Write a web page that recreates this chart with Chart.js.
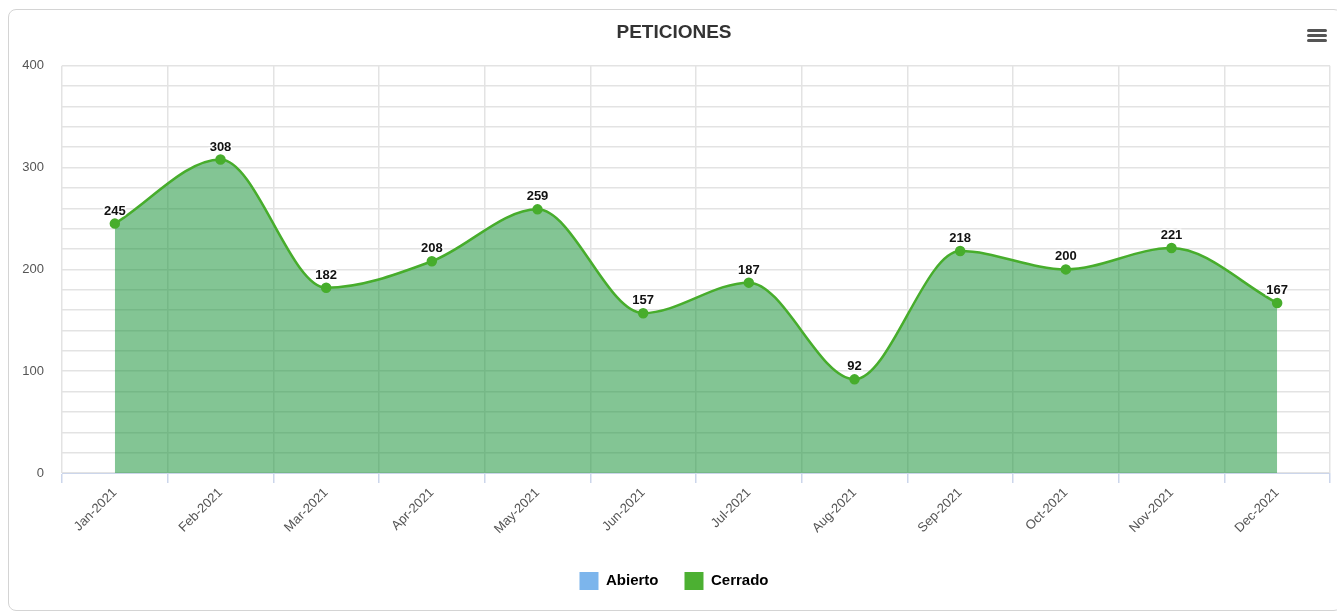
<!DOCTYPE html>
<html>
<head>
<meta charset="utf-8">
<script src="https://cdn.jsdelivr.net/npm/chart.js@4/dist/chart.umd.min.js"></script>
<style>
    body { margin: 0; background: #fff; font-family: 'Liberation Sans', Arial, sans-serif; }
    .frame {
        position: absolute; left: 8px; top: 9px; width: 1332px; height: 600px;
        border: 1px solid #d4d4d4; border-radius: 8px;
    }
    .menu { position: absolute; left: 1307px; top: 29px; width: 20px; }
    .menu span { display: block; height: 3px; background: #555; border-radius: 2px; margin-bottom: 2px; }
    #chartWrap { position: absolute; left: 0; top: 0; width: 1337px; height: 613px; }
</style>
</head>
<body>
<div class="frame"></div>
<div class="menu"><span></span><span></span><span></span></div>
<div id="chartWrap"><canvas id="peticionesChart"></canvas></div>
<script>
// datos del grafico
const meses = ['Jan-2021', 'Feb-2021', 'Mar-2021', 'Apr-2021', 'May-2021', 'Jun-2021',
               'Jul-2021', 'Aug-2021', 'Sep-2021', 'Oct-2021', 'Nov-2021', 'Dec-2021'];
const abierto = [];
const cerrado = [245, 308, 182, 208, 259, 157, 187, 92, 218, 200, 221, 167];
const yTicks = [0, 100, 200, 300, 400];

const verde = '#47ad2c';
const fuente = "'Liberation Sans', Arial, sans-serif";

// etiquetas de valor encima de cada punto
const valueLabels = {
    id: 'valueLabels',
    afterDatasetsDraw(chart) {
        const ctx = chart.ctx;
        const meta = chart.getDatasetMeta(1);
        ctx.save();
        ctx.font = 'bold 13px ' + fuente;
        ctx.textAlign = 'center';
        ctx.textBaseline = 'bottom';
        meta.data.forEach((pt, i) => {
            const txt = String(cerrado[i]);
            ctx.lineWidth = 3;
            ctx.strokeStyle = 'rgba(255,255,255,0.8)';
            ctx.strokeText(txt, pt.x, pt.y - 6);
            ctx.fillStyle = '#111';
            ctx.fillText(txt, pt.x, pt.y - 6);
        });
        ctx.restore();
    }
};

const ctx = document.getElementById('peticionesChart').getContext('2d');
new Chart(ctx, {
    type: 'line',
    data: {
        labels: meses,
        datasets: [{
            label: 'Abierto',
            data: abierto,
            borderColor: '#7cb5ec',
            backgroundColor: '#7cb5ec'
        }, {
            label: 'Cerrado',
            data: cerrado,
            borderColor: verde,
            backgroundColor: 'rgba(30, 150, 60, 0.55)',
            fill: 'origin',
            tension: 0.4,
            cubicInterpolationMode: 'monotone',
            borderWidth: 2.5,
            pointRadius: 4,
            pointBackgroundColor: verde,
            pointBorderColor: verde
        }]
    },
    options: {
        responsive: true,
        maintainAspectRatio: false,
        animation: false,
        layout: { padding: { left: 18, right: 7, top: 0, bottom: 13 } },
        plugins: {
            title: {
                display: true,
                text: 'PETICIONES',
                color: '#333',
                font: { family: fuente, size: 19, weight: 'bold' },
                padding: { top: 21, bottom: 22 }
            },
            legend: {
                position: 'bottom',
                labels: {
                    boxWidth: 19,
                    boxHeight: 18,
                    padding: 26,
                    color: '#333',
                    font: { family: fuente, size: 15, weight: 'bold' },
                    generateLabels: (chart) => chart.data.datasets.map((ds, i) => ({
                        text: ds.label,
                        fillStyle: i === 0 ? '#7cb5ec' : '#4cb032',
                        strokeStyle: i === 0 ? '#7cb5ec' : '#4cb032',
                        lineWidth: 0,
                        datasetIndex: i
                    }))
                }
            },
            tooltip: { enabled: false }
        },
        scales: {
            x: {
                offset: true,
                grid: { offset: true, color: '#e3e3e3', lineWidth: 1.5, tickColor: '#ccd6eb', tickLength: 10 },
                border: { color: '#ccd6eb' },
                ticks: {
                    color: '#555',
                    font: { family: fuente, size: 13 },
                    minRotation: 45,
                    maxRotation: 45,
                    padding: 2
                },
                afterFit: (scale) => { scale.height = 73; }
            },
            y: {
                min: 0,
                max: 400,
                grid: { color: '#e3e3e3', lineWidth: 1.5, drawTicks: false },
                border: { display: false },
                ticks: {
                    stepSize: 20,
                    padding: 18,
                    color: '#555',
                    font: { family: fuente, size: 13 },
                    callback: (v) => yTicks.includes(v) ? String(v) : ''
                },
                afterFit: (scale) => { scale.width = 44; }
            }
        }
    },
    plugins: [valueLabels]
});
</script>
</body>
</html>
